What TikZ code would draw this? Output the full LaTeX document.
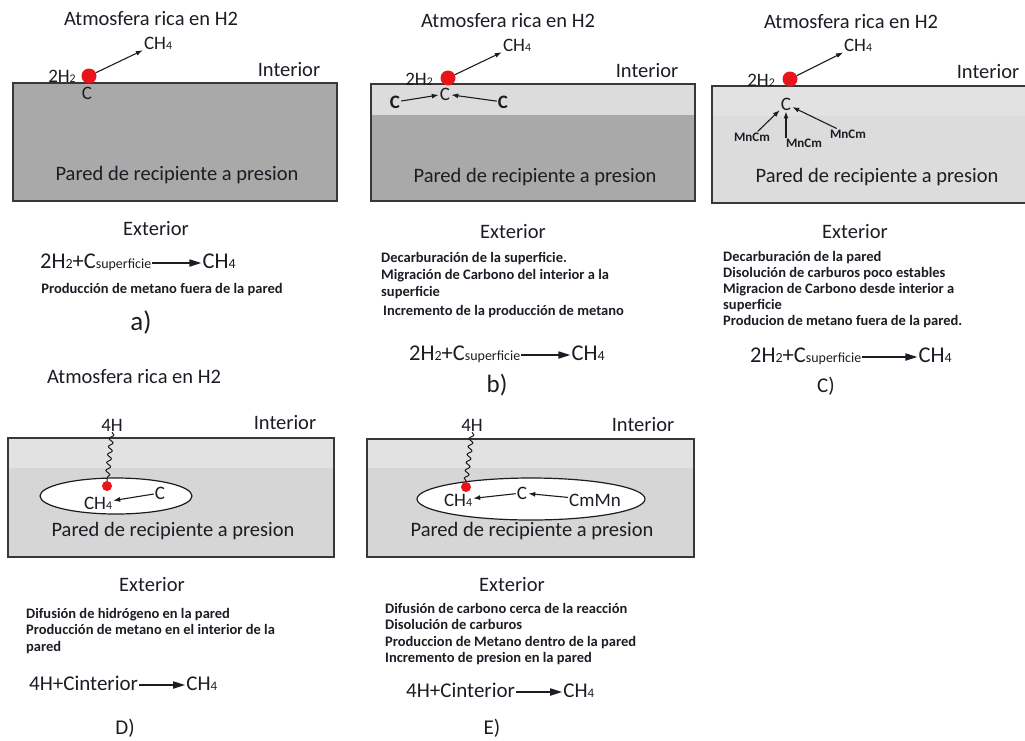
\documentclass[tikz,border=0pt]{standalone}
\usepackage{fontspec}
\setmainfont{Carlito}
\usepackage{tikz}
\usetikzlibrary{
  arrows.meta,
  decorations.pathmorphing,
  positioning,
  shapes.geometric
}
\definecolor{HaDark}{HTML}{A9A9A9}
\definecolor{HaBand}{HTML}{DCDCDC}
\definecolor{HaPale}{HTML}{E2E2E2}
\definecolor{HaPaleLow}{HTML}{DCDCDC}
\definecolor{HaMid}{HTML}{D6D6D6}
\definecolor{HaRed}{HTML}{E8141A}
\definecolor{HaInk}{HTML}{1C1C24}
\colorlet{HaEdge}{black!78}
\tikzset{
  every node/.style = {text=HaInk, inner sep=1pt},
  big text/.style = {font=\fontsize{20.5}{24}\selectfont},
  equation/.style = {font=\fontsize{21}{24}\selectfont},
  equation wide/.style = {font=\fontsize{22.5}{26}\selectfont},
  tag/.style = {font=\fontsize{19}{22}\selectfont},
  tag bold/.style = {font=\fontsize{19}{22}\selectfont\bfseries},
  tag small/.style = {font=\fontsize{13}{15}\selectfont\bfseries},
  small note/.style = {
    font=\fontsize{14.5}{16.5}\selectfont\bfseries,
    align=left,
    anchor=north west,
    inner sep=0pt
  },
  panel mark/.style = {font=\fontsize{21}{25}\selectfont},
  wall edge/.style = {draw=HaEdge, line width=1.6pt},
  hot spot/.style = {circle, fill=HaRed, inner sep=0pt, minimum size=15pt},
  hot spot small/.style = {hot spot, minimum size=10pt},
  flow/.style = {-{Latex[length=7pt,width=5pt]}, draw=HaInk, line width=1.1pt},
  reaction/.style = {-{Triangle[length=12pt,width=7pt]}, draw=HaInk, line width=1.7pt},
  diffusion/.style = {
    draw=HaInk, line width=1pt, decorate,
    decoration={snake, amplitude=2.2pt, segment length=8pt}
  },
  void/.style = {ellipse, draw=HaInk, fill=white, line width=1.2pt, inner sep=0pt},
}
\newcommand{\Sub}[1]{\scalebox{0.62}{#1}}
\newcommand{\Reaction}[6][equation]{%
  \node[#1, anchor=base west] (#2a) at #3 {#4};
  \node[#1, anchor=base west] (#2b) at ([xshift=#5]#2a.base east) {#6};
  \draw[reaction] ([yshift=5pt]#2a.base east) -- ([yshift=5pt]#2b.base west);
}

\begin{document}
\begin{tikzpicture}[x=1pt,y=-1pt]
  \useasboundingbox (0,0) rectangle (1025,740);

  % a) superficie
  \fill[HaDark] (13,83) rectangle (337,201);
  \draw[wall edge] (13,83) rectangle (337,201);
  \node[big text] (atmA) at (151,19) {Atmosfera rica en H2};
  \node[tag] (ch4A) at (158,43) {CH\Sub{4}};
  \node[tag] (h2A) at (62,76) {2H\Sub{2}};
  \node[hot spot] (spotA) at (89,76) {};
  \node[tag] (cA) at (87,93) {C};
  \node[big text] (inA) at (289,70) {Interior};
  \node[big text] (wallA) at (177,175) {Pared de recipiente a presion};
  \node[big text] (exA) at (156,229) {Exterior};
  \Reaction[equation wide]{eqA}{(39,268)}{2H\Sub{2}+C\Sub{superficie}}{49pt}{CH\Sub{4}}
  \node[small note, anchor=center] (noteA) at (162,290) {Producción de metano fuera de la pared};
  \node[panel mark, font=\fontsize{27}{30}\selectfont] (markA) at (141,322) {a)};
  \draw[flow] (spotA) -- (ch4A);

  % b) migracion de carbono
  \fill[HaBand] (371,84) rectangle (695,115);
  \fill[HaDark] (371,115) rectangle (695,201);
  \draw[wall edge] (371,84) rectangle (695,201);
  \node[big text] (atmB) at (508,21) {Atmosfera rica en H2};
  \node[tag] (ch4B) at (517,45) {CH\Sub{4}};
  \node[tag] (h2B) at (419,79) {2H\Sub{2}};
  \node[hot spot] (spotB) at (448,78) {};
  \node[tag] (cB) at (445,94) {C};
  \node[tag bold] (cBl) at (395,102) {C};
  \node[tag bold] (cBr) at (503,102) {C};
  \node[big text] (inB) at (647,71) {Interior};
  \node[big text] (wallB) at (535,177) {Pared de recipiente a presion};
  \node[big text] (exB) at (513,232) {Exterior};
  \node[small note, font=\fontsize{14.5}{17}\selectfont\bfseries] (noteB) at (381,252)
    {Decarburación de la superficie.\\
     Migración de Carbono del interior a la\\
     superficie\\[2pt]
     \hspace{2pt}Incremento de la producción de metano};
  \Reaction[equation wide]{eqB}{(408,360)}{2H\Sub{2}+C\Sub{superficie}}{49pt}{CH\Sub{4}}
  \node[panel mark, font=\fontsize{25}{28}\selectfont] (markB) at (497,385) {b)};
  \draw[flow] (spotB) -- (ch4B);
  \draw[flow] (cBl) -- (cB);
  \draw[flow] (cBr) -- (cB);

  % c) carburos
  \fill[HaPale] (712,86) rectangle (1025,116);
  \fill[HaPaleLow] (712,116) rectangle (1025,203);
  \draw[wall edge] (1025,86) -- (712,86) -- (712,203) -- (1025,203);
  \node[big text] (atmC) at (851,22) {Atmosfera rica en H2};
  \node[tag] (ch4C) at (858,45) {CH\Sub{4}};
  \node[tag] (h2C) at (761,80) {2H\Sub{2}};
  \node[hot spot] (spotC) at (790,79) {};
  \node[tag] (cC) at (786,104) {C};
  \node[tag small] (mnL) at (752,137) {MnCm};
  \node[tag small] (mnM) at (804,143) {MnCm};
  \node[tag small] (mnR) at (848,134) {MnCm};
  \node[big text] (inC) at (988,72) {Interior};
  \node[big text] (wallC) at (877,177) {Pared de recipiente a presion};
  \node[big text] (exC) at (855,232) {Exterior};
  \node[small note, font=\fontsize{14.5}{16}\selectfont\bfseries] (noteC) at (723,251)
    {Decarburación de la pared\\
     Disolución de carburos poco estables\\
     Migracion de Carbono desde interior a\\
     superficie\\
     Producion de metano fuera de la pared.};
  \Reaction[equation wide]{eqC}{(749,362)}{2H\Sub{2}+C\Sub{superficie}}{55pt}{CH\Sub{4}}
  \node[panel mark] (markC) at (826,386) {C)};
  \draw[flow] (spotC) -- (ch4C);
  \draw[flow] (mnL) -- (cC);
  \draw[flow] (mnM.north -| cC.south) -- (cC.south);
  \draw[flow] (mnR) -- (cC);

  % D) hidrogeno en la pared
  \fill[HaPale] (8,438) rectangle (334,468);
  \fill[HaMid] (8,468) rectangle (334,557);
  \draw[wall edge] (8,438) rectangle (334,557);
  \node[big text] (atmD) at (134,377) {Atmosfera rica en H2};
  \node[tag] (h4D) at (112,425) {4H};
  \node[big text] (inD) at (285,423) {Interior};
  \node[void, minimum width=152pt, minimum height=36pt] (voidD) at (116,496) {};
  \node[hot spot small] (spotD) at (107,486) {};
  \node[tag] (ch4D) at (98,503) {CH\Sub{4}};
  \node[tag] (cD) at (160,493) {C};
  \node[big text] (wallD) at (173,531) {Pared de recipiente a presion};
  \node[big text] (exD) at (152,585) {Exterior};
  \node[small note] (noteD) at (26,608)
    {Difusión de hidrógeno en la pared\\
     Producción de metano en el interior de la\\
     pared};
  \Reaction{eqD}{(28,690)}{4H+Cinterior}{46pt}{CH\Sub{4}}
  \node[panel mark] (markD) at (125,728) {D)};
  \draw[diffusion] (h4D.south) -- (spotD.north);
  \draw[flow] (cD) -- (ch4D);

  % E) carburos dentro de la pared
  \fill[HaPale] (367,439) rectangle (694,468);
  \fill[HaMid] (367,468) rectangle (694,557);
  \draw[wall edge] (367,439) rectangle (694,557);
  \node[tag] (h4E) at (472,425) {4H};
  \node[big text] (inE) at (643,425) {Interior};
  \node[void, minimum width=228pt, minimum height=42pt] (voidE) at (531,499) {};
  \node[hot spot small] (spotE) at (466,487) {};
  \node[tag] (ch4E) at (458,500) {CH\Sub{4}};
  \node[tag] (cE) at (522,493) {C};
  \node[tag] (cmE) at (595,500) {CmMn};
  \node[big text] (wallE) at (532,531) {Pared de recipiente a presion};
  \node[big text] (exE) at (512,585) {Exterior};
  \node[small note] (noteE) at (385,603)
    {Difusión de carbono cerca de la reacción\\
     Disolución de carburos\\
     Produccion de Metano dentro de la pared\\
     Incremento de presion en la pared};
  \Reaction{eqE}{(405,697)}{4H+Cinterior}{46pt}{CH\Sub{4}}
  \node[panel mark] (markE) at (492,728) {E)};
  \draw[diffusion] (h4E.south) -- (spotE.north);
  \draw[flow] (cE) -- (ch4E);
  \draw[flow] (cmE) -- (cE);
\end{tikzpicture}
\end{document}
